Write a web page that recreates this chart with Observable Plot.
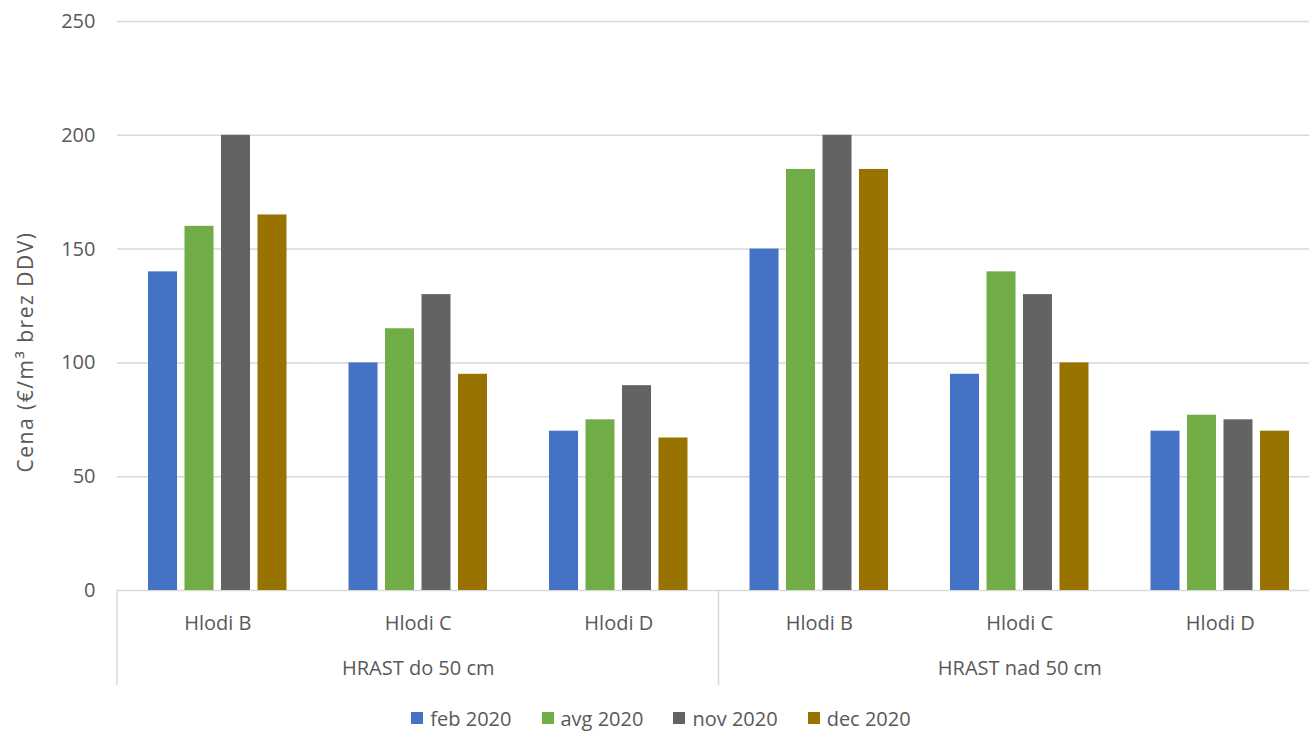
<!DOCTYPE html>
<html>
<head>
<meta charset="utf-8">
<script src="https://cdn.jsdelivr.net/npm/d3@7"></script>
<script src="https://cdn.jsdelivr.net/npm/@observablehq/plot@0.6"></script>
<style>
  html, body { margin: 0; padding: 0; background: #ffffff; overflow: hidden; }
  #chart { width: 1309px; height: 705px; overflow: hidden; font-family: "Open Sans", sans-serif; color: #595959; }
  #chart svg { max-width: none !important; }
  #legend { width: 1309px; display: flex; justify-content: center; align-items: center; height: 26px; padding-left: 13px; box-sizing: border-box; font-size: 20px; color: #595959; font-family: "Open Sans", sans-serif; }
  #legend .item { display: flex; align-items: center; margin: 0 15px; }
  #legend .sw { width: 12px; height: 12px; margin-right: 7px; }
</style>
</head>
<body>
<div id="chart"></div>
<script>
// ---- data ----
const groups = ["HRAST do 50 cm", "HRAST nad 50 cm"];
const categories = ["Hlodi B", "Hlodi C", "Hlodi D"];
const series = ["feb 2020", "avg 2020", "nov 2020", "dec 2020"];
const seriesColors = ["#4472C4", "#70AD47", "#636363", "#997300"];
// values per series, in order: do 50 (B, C, D), nad 50 (B, C, D)
const feb2020 = [140, 100, 70, 150, 95, 70];
const avg2020 = [160, 115, 75, 185, 140, 77];
const nov2020 = [200, 130, 90, 200, 130, 75];
const dec2020 = [165, 95, 67, 185, 100, 70];
const yTicks = [0, 50, 100, 150, 200, 250];
const yTitle = "Cena (€/m³ brez DDV)";

const seriesValues = [feb2020, avg2020, nov2020, dec2020];
const keys = [];
groups.forEach(g => categories.forEach(c => keys.push(g + "|" + c)));
const data = [];
keys.forEach((k, i) => series.forEach((s, j) => data.push({key: k, series: s, value: seriesValues[j][i]})));
const groupLabels = groups.map(g => ({key: g + "|" + categories[1], label: g}));

const chart = Plot.plot({
  width: 1320,
  height: 705,
  marginLeft: 117,
  marginRight: 0,
  marginTop: 21,
  marginBottom: 115,
  style: {fontFamily: "Open Sans", fontSize: "20px", color: "#595959", background: "#ffffff", maxWidth: "none"},
  fx: {domain: keys, paddingInner: 0, paddingOuter: 0, round: false, label: null, axis: null},
  x: {domain: series, paddingInner: 0.205, paddingOuter: 0.85, round: false, axis: null},
  y: {domain: [0, 250], axis: null},
  color: {domain: series, range: seriesColors},
  marks: [
    Plot.gridY(yTicks, {stroke: "#d9d9d9", strokeOpacity: 1, strokeWidth: 1.5}),
    Plot.barY(data, {fx: "key", x: "series", y: "value", fill: "series"}),
    Plot.axisY(yTicks, {tickSize: 0, tickPadding: 22, label: null, fill: "#595959", fontSize: 20}),
    Plot.axisFx({anchor: "bottom", tickSize: 0, tickPadding: 25, label: null, fill: "#595959", fontSize: 20,
                 tickFormat: d => d.split("|")[1]}),
    Plot.text(groupLabels, {fx: "key", text: "label", frameAnchor: "bottom", dy: 84, fill: "#595959", fontSize: 20})
  ]
});
chart.style.maxWidth = "none";
chart.style.width = "1320px";
chart.style.height = "705px";

// separators of the multi-level category axis, from the library's scales
const fx = chart.scale("fx");
const ys = chart.scale("y");
const svg = d3.select(chart);
const y0 = ys.apply(0);
const sepX = [fx.apply(keys[0]), fx.apply(keys[3]), fx.apply(keys[5]) + fx.bandwidth];
svg.append("g").selectAll("line").data(sepX).join("line")
  .attr("x1", d => d).attr("x2", d => d)
  .attr("y1", y0).attr("y2", y0 + 95)
  .attr("stroke", "#d9d9d9").attr("stroke-width", 1.5);
svg.append("text")
  .attr("transform", "translate(25,352) rotate(-90)")
  .attr("text-anchor", "middle").attr("dominant-baseline", "central")
  .attr("fill", "#595959").attr("font-size", 21).attr("letter-spacing", "1.5px")
  .attr("font-family", "Open Sans")
  .text(yTitle);

document.getElementById("chart").appendChild(chart);

const legend = document.createElement("div");
legend.id = "legend";
series.forEach((s, i) => {
  const it = document.createElement("div");
  it.className = "item";
  const sw = document.createElement("div");
  sw.className = "sw";
  sw.style.background = seriesColors[i];
  const t = document.createElement("span");
  t.textContent = s;
  it.appendChild(sw); it.appendChild(t);
  legend.appendChild(it);
});
document.body.appendChild(legend);
</script>
</body>
</html>
